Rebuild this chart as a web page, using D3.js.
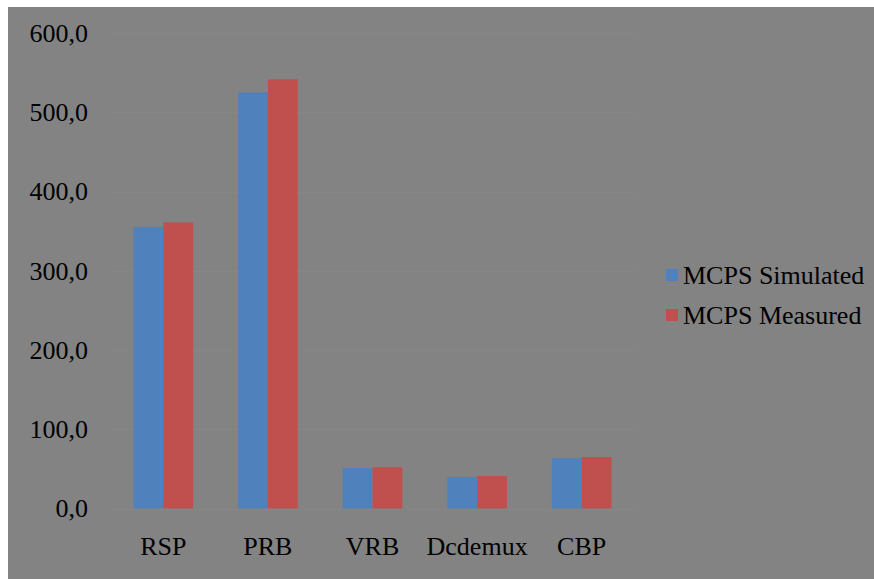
<!DOCTYPE html>
<html lang="en">
<head>
    <meta charset="utf-8">
    <title>MCPS</title>
    <style type="text/css">
        body { margin: 0; background: #fff; }
    </style>
</head>
<body>
    <svg class="chart" width="874" height="579" font-family="Liberation Serif" font-size="26"></svg>

    <script src="https://d3js.org/d3.v7.min.js"></script>
    <script>
        // data
        var categories = ['RSP', 'PRB', 'VRB', 'Dcdemux', 'CBP'];
        var seriesNames = ['MCPS Simulated', 'MCPS Measured'];
        var simulated = [355, 525, 51, 39.5, 63.5];
        var measured = [361, 541.5, 52, 41, 65];
        var yTicks = [0, 100, 200, 300, 400, 500, 600];
        var colors = ['#4f81bd', '#c0504d'];

        var FONT = 'Liberation Serif';

        var svg = d3.select('.chart');

        // gray background with thin white edge top/left
        svg.append('rect')
            .attr('x', 8).attr('y', 7)
            .attr('width', 866).attr('height', 572)
            .attr('fill', '#838383');

        var x = d3.scaleBand()
            .domain(categories)
            .range([111, 634])
            .paddingInner(0.43)
            .paddingOuter(0.215);

        var x1 = d3.scaleBand()
            .domain(seriesNames)
            .range([0, x.bandwidth()]);

        var y = d3.scaleLinear()
            .domain([0, 600])
            .range([508.5, 33]);

        // very faint gridlines
        svg.append('g')
            .selectAll('line')
            .data(yTicks)
            .enter()
            .append('line')
            .attr('x1', 111).attr('x2', 634)
            .attr('y1', function(d) { return Math.round(y(d)) + 0.5; })
            .attr('y2', function(d) { return Math.round(y(d)) + 0.5; })
            .attr('stroke', '#868686')
            .attr('stroke-width', 1);

        function styleText(sel) {
            sel.attr('font-family', FONT)
               .attr('font-size', 26)
               .attr('fill', '#000');
        }

        // y axis labels
        var fmt = function(d) { return d3.format('.1f')(d).replace('.', ','); };
        var yAxis = d3.axisLeft(y)
            .tickValues(yTicks)
            .tickFormat(fmt)
            .tickSize(0)
            .tickPadding(0);
        var gy = svg.append('g')
            .attr('transform', 'translate(88,0)')
            .call(yAxis)
            .attr('font-family', FONT)
            .attr('font-size', 26);
        gy.select('.domain').remove();
        gy.selectAll('text').call(styleText);

        // bars
        var rows = categories.map(function(c, i) {
            return { cat: c, vals: [simulated[i], measured[i]] };
        });
        var groups = svg.append('g')
            .selectAll('g')
            .data(rows)
            .enter()
            .append('g')
            .attr('transform', function(d) { return 'translate(' + x(d.cat) + ',0)'; });

        groups.selectAll('rect')
            .data(function(d) {
                return d.vals.map(function(v, j) { return { s: seriesNames[j], v: v, j: j }; });
            })
            .enter()
            .append('rect')
            .attr('x', function(d) { return x1(d.s); })
            .attr('width', x1.bandwidth())
            .attr('y', function(d) { return y(d.v); })
            .attr('height', function(d) { return y(0) - y(d.v); })
            .attr('fill', function(d) { return colors[d.j]; });

        // x axis labels
        var xAxis = d3.axisBottom(x).tickSize(0).tickPadding(0);
        var gx = svg.append('g')
            .attr('transform', 'translate(0,537)')
            .call(xAxis)
            .attr('font-family', FONT)
            .attr('font-size', 26);
        gx.select('.domain').remove();
        gx.selectAll('text').attr('dy', '0.71em').call(styleText);

        // legend
        var legend = svg.append('g')
            .selectAll('g')
            .data(seriesNames)
            .enter()
            .append('g')
            .attr('transform', function(d, i) { return 'translate(666,' + (275 + i * 40) + ')'; });

        legend.append('rect')
            .attr('x', 0).attr('y', -6)
            .attr('width', 12).attr('height', 12)
            .attr('fill', function(d, i) { return colors[i]; });

        legend.append('text')
            .attr('x', 17)
            .attr('dy', '0.35em')
            .text(function(d) { return d; })
            .call(styleText);
    </script>
</body>
</html>
